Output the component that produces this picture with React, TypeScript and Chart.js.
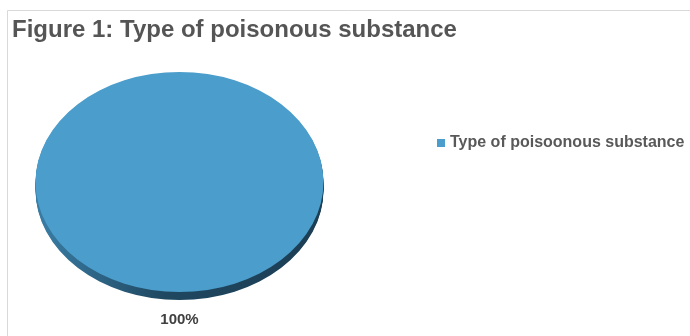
import React, { useEffect, useRef } from "react";
import { Chart, registerables } from "chart.js";

Chart.register(...registerables);

const titleText = "Figure 1: Type of poisonous substance";
const categories = ["Type of poisoonous substance"];
const values = [100];
const sliceColors = ["#4b9dcb"];
const sideColors = ["#2c6b8f"];

const FONT = "'Liberation Sans', Arial, sans-serif";
const TILT = 110 / 144; // vertical squash of the pie face
const DEPTH = 8; // thickness of the pie side

const tiltPlugin = {
  id: "tilt3d",
  beforeDatasetsDraw(chart: any) {
    const ctx = chart.ctx;
    const meta = chart.getDatasetMeta(0);
    const arcs = meta.data;
    if (!arcs.length) return;
    const { x, y } = arcs[0];
    ctx.save();
    ctx.translate(x, y);
    ctx.scale(1, TILT);
    ctx.translate(-x, -y);
    // side walls, stacked below the face
    arcs.forEach((arc: any, i: number) => {
      const r = arc.outerRadius;
      const g = ctx.createLinearGradient(x - r, 0, x + r, 0);
      g.addColorStop(0, "#3a7ea6");
      g.addColorStop(0.45, "#1f4760");
      g.addColorStop(1, "#1c3e54");
      for (let d = DEPTH; d >= 1; d--) {
        ctx.beginPath();
        ctx.moveTo(arc.x, arc.y + d / TILT);
        ctx.arc(arc.x, arc.y + d / TILT, r, arc.startAngle, arc.endAngle);
        ctx.closePath();
        ctx.fillStyle = i === 0 ? g : sideColors[i % sideColors.length];
        ctx.fill();
      }
    });
  },
  afterDatasetsDraw(chart: any) {
    chart.ctx.restore();
  },
};

const decorPlugin = {
  id: "decor",
  afterDraw(chart: any) {
    const ctx = chart.ctx;
    ctx.save();
    // frame lines
    ctx.strokeStyle = "#d9d9d9";
    ctx.lineWidth = 1;
    ctx.beginPath();
    ctx.moveTo(7.5, 336);
    ctx.lineTo(7.5, 10.5);
    ctx.lineTo(690, 10.5);
    ctx.stroke();

    // title
    ctx.fillStyle = "#555555";
    ctx.font = `bold 24px ${FONT}`;
    ctx.textBaseline = "alphabetic";
    ctx.textAlign = "left";
    ctx.fillText(titleText, 12, 37);

    // legend
    ctx.font = `bold 16px ${FONT}`;
    ctx.textBaseline = "middle";
    categories.forEach((c, i) => {
      const ly = 143 + i * 24;
      ctx.fillStyle = sliceColors[i];
      ctx.fillRect(437, ly - 4, 8, 8);
      ctx.fillStyle = "#595959";
      ctx.fillText(c, 450, ly);
    });

    // percentage label under the pie
    const meta = chart.getDatasetMeta(0);
    const total = values.reduce((a, b) => a + b, 0);
    ctx.fillStyle = "#404040";
    ctx.font = `bold 15px ${FONT}`;
    ctx.textAlign = "center";
    meta.data.forEach((arc: any, i: number) => {
      const mid = (arc.startAngle + arc.endAngle) / 2;
      const pct = Math.round((values[i] / total) * 100) + "%";
      let lx = arc.x + Math.cos(mid) * arc.outerRadius;
      let ly = arc.y + Math.sin(mid) * arc.outerRadius * TILT;
      if (values.length === 1) {
        lx = arc.x;
        ly = arc.y + arc.outerRadius * TILT + DEPTH + 20;
      }
      ctx.fillText(pct, lx, ly);
    });
    ctx.restore();
  },
};

export default function App() {
  const ref = useRef<HTMLCanvasElement | null>(null);
  useEffect(() => {
    if (!ref.current) return;
    const chart = new Chart(ref.current, {
      type: "pie",
      data: {
        labels: categories,
        datasets: [
          {
            data: values,
            backgroundColor: sliceColors,
            borderWidth: 0,
          },
        ],
      },
      options: {
        animation: false,
        responsive: false,
        rotation: 90,
        layout: { padding: { left: 35.5, right: 366.5, top: 38, bottom: 10 } },
        plugins: {
          legend: { display: false },
          title: { display: false },
          tooltip: { enabled: false },
        },
      },
      plugins: [tiltPlugin, decorPlugin],
    });
    return () => chart.destroy();
  }, []);
  return (
    <div style={{ position: "absolute", left: 0, top: 0, width: 690, height: 336, background: "#fff" }}>
      <canvas ref={ref} width={690} height={336} style={{ display: "block" }} />
    </div>
  );
}
